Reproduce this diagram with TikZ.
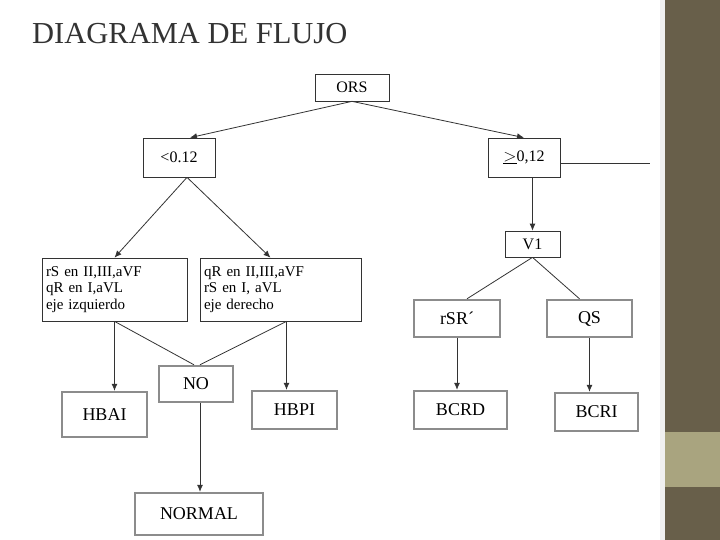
\documentclass[tikz,border=0pt]{standalone}
\usepackage{fontspec}
\setmainfont{Liberation Serif}
\usetikzlibrary{positioning, arrows.meta}
\definecolor{olive}{HTML}{685F4A}
\definecolor{lightolive}{HTML}{A9A47F}
\tikzset{
  box/.style={draw=black!80, line width=0.7pt, fill=white, inner sep=2pt, font=\fontsize{16}{17}\selectfont},
  bbox/.style={draw=black!45, line width=2.4pt, fill=white, inner sep=2pt, font=\fontsize{18}{19}\selectfont},
  arr/.style={-{Latex[length=7pt,width=6pt]}, line width=0.8pt, black!80},
  ln/.style={line width=0.8pt, black!80}
}
\begin{document}
\begin{tikzpicture}[x=1pt, y=-1pt]
\useasboundingbox (0,0) rectangle (720,540);
% background
\fill[white] (0,0) rectangle (665,540);
\fill[black!6] (660,0) rectangle (665,540);
\fill[olive] (665,0) rectangle (720,540);
\fill[lightolive] (665,432) rectangle (720,487);
\node[anchor=base west, text=black!80, font=\fontsize{30.5}{32}\selectfont, inner sep=0pt] (title) at (32,44) {DIAGRAMA DE FLUJO};
% nodes
\node[box, minimum width=74pt, minimum height=27pt] (ors) at (352,87.5) {ORS};
\node[box, minimum width=72pt, minimum height=39pt] (lt) at (179,157.5) {<0.12};
\node[box, minimum width=72pt, minimum height=39pt] (ge) at (524,157.5) {$\underline{>}$0,12};
\node[box, minimum width=55pt, minimum height=26pt] (v) at (532.5,244) {V1};
\node[box, minimum width=145pt, minimum height=63pt, align=left, text width=137pt, font=\fontsize{15}{16.5}\selectfont] (lb) at (114.5,289.5) {rS en II,III,aVF\\qR en I,aVL\\eje izquierdo};
\node[box, minimum width=161pt, minimum height=63pt, align=left, text width=153pt, font=\fontsize{15}{16.5}\selectfont] (rb) at (280.5,289.5) {qR en II,III,aVF\\rS en I, aVL\\eje derecho};
\node[bbox, minimum width=86pt, minimum height=37pt] (rsr) at (457,318.5) {rSR\textasciiacute};
\node[bbox, minimum width=85pt, minimum height=37pt] (qs) at (589.5,318.5) {QS};
\node[bbox, minimum width=74pt, minimum height=36pt] (no) at (196,384) {NO};
\node[bbox, minimum width=85pt, minimum height=45pt] (hbai) at (104.5,414.5) {HBAI};
\node[bbox, minimum width=85pt, minimum height=38pt] (hbpi) at (294.5,410) {HBPI};
\node[bbox, minimum width=93pt, minimum height=38pt] (bcrd) at (460.5,410) {BCRD};
\node[bbox, minimum width=83pt, minimum height=38pt] (bcri) at (596.5,412) {BCRI};
\node[bbox, minimum width=128pt, minimum height=42pt] (normal) at (199,514) {NORMAL};
\coordinate (edge) at (650,163);
\coordinate (rbout) at ([xshift=6pt]rb.south);
% connectors
\draw[arr] (ors.south) -- ([xshift=11pt]lt.north);
\draw[arr] (ors.south) -- (ge.north);
\draw[ln] (ge.east |- edge) -- (edge);
\draw[arr] ([xshift=8pt]lt.south) -- (lb.north);
\draw[arr] ([xshift=8pt]lt.south) -- ([xshift=-10pt]rb.north);
\draw[arr] (v.north |- ge.south) -- (v.north);
\draw[ln] (v.south) -- ([xshift=10pt]rsr.north);
\draw[ln] (v.south) -- ([xshift=-10pt]qs.north);
\draw[arr] (lb.south) -- (hbai.north -| lb.south);
\draw[arr] (rbout) -- (hbpi.north -| rbout);
\draw[ln] (lb.south) -- ([xshift=-2pt]no.north);
\draw[ln] (rbout) -- ([xshift=4pt]no.north);
\draw[arr] ([xshift=4pt]no.south) -- ([xshift=1pt]normal.north);
\draw[arr] (rsr.south) -- (bcrd.north -| rsr.south);
\draw[arr] (qs.south) -- (bcri.north -| qs.south);
\end{tikzpicture}
\end{document}
